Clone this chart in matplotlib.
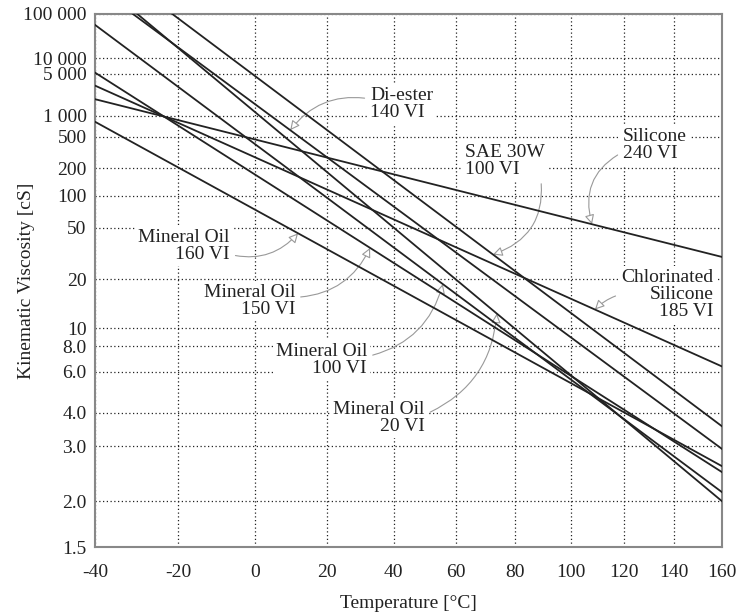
import numpy as np
import matplotlib
matplotlib.use("Agg")
import matplotlib.pyplot as plt

# Viscosity-temperature lines (straight on the ASTM D341 chart)
fluids = ["Mineral Oil 20 VI", "Mineral Oil 100 VI", "Mineral Oil 150 VI", "Mineral Oil 160 VI",
          "SAE 30W 100 VI", "Di-ester 140 VI", "Silicone 240 VI", "Chlorinated Silicone 185 VI"]
visc_40 = [50.3, 34.4, 26.2, 18.1, 147.0, 78.5, 170.0, 59.5]    # cSt at 40 C
visc_100 = [5.78, 5.53, 5.75, 5.33, 12.2, 8.9, 60.0, 14.9]      # cSt at 100 C

x_ticks = [-40, -20, 0, 20, 40, 60, 80, 100, 120, 140, 160]
y_ticks = [1.5, 2.0, 3.0, 4.0, 6.0, 8.0, 10, 20, 50, 100, 200, 500, 1000, 5000, 10000, 100000]
y_labels = ["1.5", "2.0", "3.0", "4.0", "6.0", "8.0", "10", "20", "50", "100", "200", "500",
            "1 000", "5 000", "10 000", "100 000"]


def fwd_x(t):
    return np.log10(np.asarray(t, float) + 273.15)


def inv_x(u):
    return 10 ** np.asarray(u, float) - 273.15


def fwd_y(v):
    v = np.asarray(v, float)
    return np.log10(np.log10(np.maximum(v + 0.7, 1 + 1e-9)))


def inv_y(w):
    w = np.clip(np.asarray(w, float), -5, 1.5)
    return 10 ** (10 ** w) - 0.7


def walther(name, t):
    i = fluids.index(name)
    w1, w2 = fwd_y(visc_40[i]), fwd_y(visc_100[i])
    u1, u2 = fwd_x(40), fwd_x(100)
    b = (w2 - w1) / (u2 - u1)
    return inv_y(w1 + b * (fwd_x(t) - u1))


plt.rcParams["font.family"] = ["Liberation Serif", "DejaVu Serif"]

fig = plt.figure(figsize=(7.38, 6.13), dpi=100)
ax = fig.add_axes([95 / 738, 66 / 613, 627 / 738, 533 / 613])
ax.set_xscale("function", functions=(fwd_x, inv_x))
ax.set_yscale("function", functions=(fwd_y, inv_y))

temps = np.linspace(-40, 160, 300)
for name in fluids:
    ax.plot(temps, walther(name, temps), color="#222222", lw=1.3, zorder=3)

ax.set_xlim(-40, 160)
ax.set_ylim(1.5, 100000)
ax.set_xticks(x_ticks)
ax.set_xticklabels([str(t) for t in x_ticks])
ax.set_yticks(y_ticks)
ax.set_yticklabels(y_labels)
ax.minorticks_off()
ax.tick_params(length=0, labelsize=14, colors="#222222")
ax.tick_params(axis="x", pad=12)
ax.tick_params(axis="y", pad=6)
ax.grid(True, linestyle=(0, (1, 2)), color="#222222", lw=0.9, zorder=1)
for s in ax.spines.values():
    s.set_color("#888888")
    s.set_linewidth(1.5)

ax.set_xlabel("Temperature [°C]", fontsize=14, color="#222222", labelpad=10)
ax.set_ylabel("Kinematic Viscosity [cS]", fontsize=14, color="#222222")
ax.yaxis.set_label_coords(-0.095, 0.5)

# labels: (text, fluid, tip temperature, text x, text y in axes fraction, ha, arrow start, rad)
notes = [
    ("Di-ester\n140 VI", "Di-ester 140 VI", 9.6, 0.439, 0.831, "left", (0, 0.65), 0.3),
    ("SAE 30W\n100 VI", "SAE 30W 100 VI", 72.3, 0.590, 0.724, "left", (0.95, 0.0), -0.4),
    ("Silicone\n240 VI", "Silicone 240 VI", 107.8, 0.842, 0.754, "left", (0, 0.3), 0.4),
    ("Mineral Oil\n160 VI", "Mineral Oil 160 VI", 11.8, 0.215, 0.565, "right", (1.0, 0.25), 0.3),
    ("Mineral Oil\n150 VI", "Mineral Oil 150 VI", 32.8, 0.319, 0.462, "right", (1.0, 0.6), 0.3),
    ("Mineral Oil\n100 VI", "Mineral Oil 100 VI", 55.6, 0.434, 0.351, "right", (1.0, 0.6), 0.3),
    ("Mineral Oil\n20 VI", "Mineral Oil 20 VI", 73.6, 0.526, 0.242, "right", (1.0, 0.6), 0.3),
    ("Chlorinated\nSilicone\n185 VI", "Chlorinated Silicone 185 VI", 108.9, 0.986, 0.473, "right",
     (0.15, 0.55), 0.2),
]
for text, name, t_tip, fx, fy, ha, rel, rad in notes:
    ax.annotate(text, xy=(t_tip, float(walther(name, t_tip))), xycoords="data",
                xytext=(fx, fy), textcoords="axes fraction", ha=ha, va="center",
                multialignment=ha, fontsize=14, color="#222222", linespacing=1.0, zorder=2,
                bbox=dict(boxstyle="square,pad=0.15", fc="white", ec="none"),
                arrowprops=dict(arrowstyle="-|>", color="#999999", lw=0.8, fc="white",
                                relpos=rel, shrinkA=2, shrinkB=0,
                                connectionstyle="arc3,rad=%s" % rad))

fig.savefig("out.png", dpi=100)
